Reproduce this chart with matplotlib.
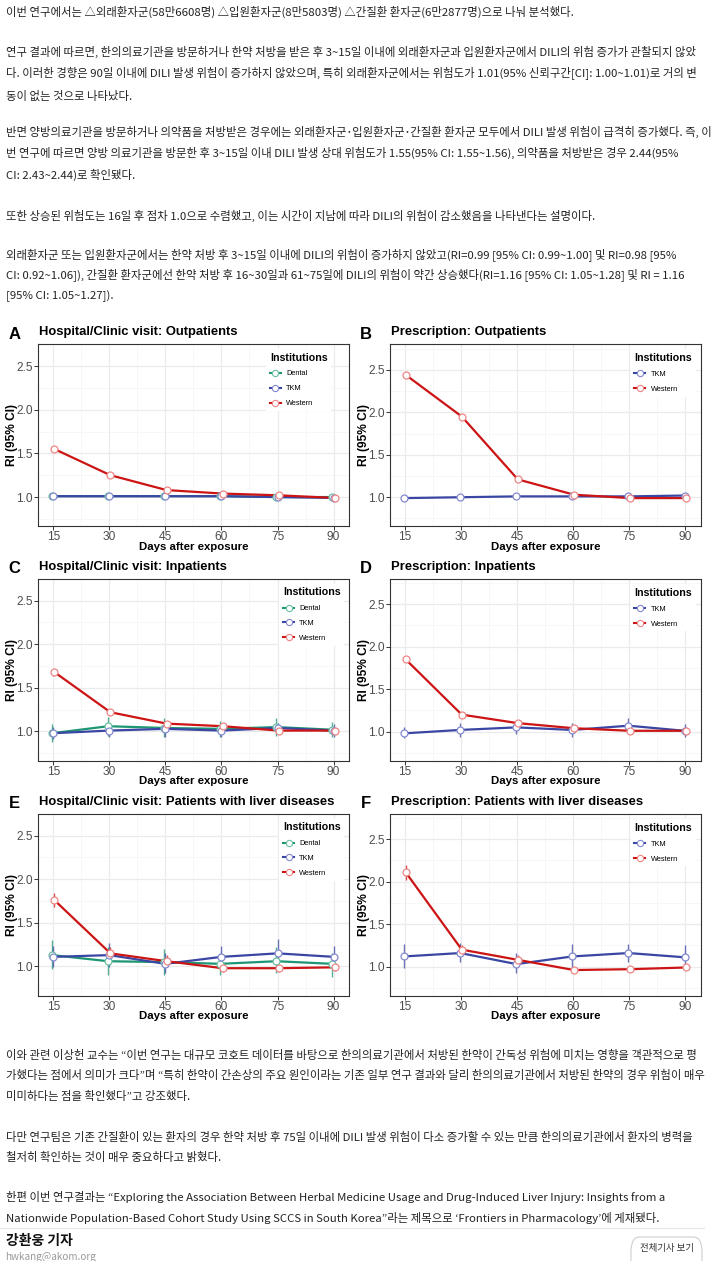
import matplotlib
matplotlib.use('Agg')
import matplotlib.pyplot as plt
import numpy as np
from matplotlib.lines import Line2D
from matplotlib.patches import FancyBboxPatch

# ---- data -------------------------------------------------------------
days = [15, 30, 45, 60, 75, 90]

# A: hospital/clinic visit, outpatients
a_dental = [1.01, 1.01, 1.01, 1.01, 1.00, 1.00]
a_dental_lo = [1.00, 1.00, 1.00, 1.00, 0.99, 0.99]
a_dental_hi = [1.02, 1.02, 1.02, 1.02, 1.01, 1.01]
a_tkm = [1.01, 1.01, 1.01, 1.01, 1.00, 0.99]
a_tkm_lo = [1.00, 1.00, 1.00, 1.00, 0.99, 0.98]
a_tkm_hi = [1.01, 1.01, 1.02, 1.02, 1.01, 1.00]
a_western = [1.55, 1.25, 1.08, 1.04, 1.02, 0.99]
a_western_lo = [1.55, 1.24, 1.08, 1.03, 1.01, 0.98]
a_western_hi = [1.56, 1.26, 1.09, 1.04, 1.02, 1.00]

# B: prescription, outpatients
b_tkm = [0.99, 1.00, 1.01, 1.01, 1.01, 1.02]
b_tkm_lo = [0.99, 0.99, 1.00, 1.00, 1.00, 1.01]
b_tkm_hi = [1.00, 1.01, 1.02, 1.02, 1.02, 1.03]
b_western = [2.44, 1.95, 1.21, 1.03, 0.99, 0.99]
b_western_lo = [2.43, 1.94, 1.20, 1.02, 0.98, 0.98]
b_western_hi = [2.44, 1.96, 1.22, 1.04, 1.00, 1.00]

# C: hospital/clinic visit, inpatients
c_dental = [0.98, 1.06, 1.04, 1.03, 1.05, 1.02]
c_dental_lo = [0.88, 0.95, 0.94, 0.94, 0.95, 0.94]
c_dental_hi = [1.08, 1.17, 1.15, 1.12, 1.15, 1.11]
c_tkm = [0.98, 1.01, 1.03, 1.01, 1.04, 1.01]
c_tkm_lo = [0.91, 0.94, 0.94, 0.94, 0.97, 0.94]
c_tkm_hi = [1.05, 1.07, 1.10, 1.08, 1.10, 1.08]
c_western = [1.68, 1.22, 1.09, 1.06, 1.01, 1.01]
c_western_lo = [1.64, 1.20, 1.07, 1.04, 0.99, 0.99]
c_western_hi = [1.72, 1.25, 1.11, 1.08, 1.03, 1.03]

# D: prescription, inpatients
d_tkm = [0.98, 1.02, 1.05, 1.02, 1.07, 1.01]
d_tkm_lo = [0.92, 0.94, 0.97, 0.94, 1.00, 0.94]
d_tkm_hi = [1.06, 1.10, 1.12, 1.10, 1.16, 1.09]
d_western = [1.85, 1.20, 1.10, 1.04, 1.01, 1.01]
d_western_lo = [1.82, 1.18, 1.08, 1.02, 0.99, 0.99]
d_western_hi = [1.88, 1.22, 1.12, 1.06, 1.03, 1.03]

# E: hospital/clinic visit, patients with liver diseases
e_dental = [1.13, 1.06, 1.05, 1.03, 1.06, 1.03]
e_dental_lo = [0.97, 0.90, 0.90, 0.90, 0.92, 0.88]
e_dental_hi = [1.30, 1.22, 1.20, 1.15, 1.22, 1.15]
e_tkm = [1.11, 1.13, 1.03, 1.11, 1.15, 1.11]
e_tkm_lo = [0.99, 0.99, 0.92, 0.99, 1.02, 0.99]
e_tkm_hi = [1.24, 1.27, 1.15, 1.24, 1.31, 1.24]
e_western = [1.76, 1.15, 1.06, 0.98, 0.98, 0.99]
e_western_lo = [1.68, 1.08, 0.99, 0.94, 0.94, 0.95]
e_western_hi = [1.84, 1.22, 1.13, 1.03, 1.02, 1.03]

# F: prescription, patients with liver diseases
f_tkm = [1.12, 1.16, 1.03, 1.12, 1.16, 1.11]
f_tkm_lo = [0.98, 1.05, 0.92, 0.98, 1.05, 0.98]
f_tkm_hi = [1.27, 1.28, 1.16, 1.27, 1.27, 1.25]
f_western = [2.11, 1.20, 1.08, 0.96, 0.97, 0.99]
f_western_lo = [2.02, 1.16, 1.03, 0.93, 0.94, 0.96]
f_western_hi = [2.20, 1.26, 1.14, 0.99, 1.00, 1.02]

y_ticks = [1.0, 1.5, 2.0, 2.5]

# ---- article text -----------------------------------------------------
top_lines = [
    (12, "이번 연구에서는 △외래환자군(58만6608명) △입원환자군(8만5803명) △간질환 환자군(6만2877명)으로 나눠 분석했다."),
    (52, "연구 결과에 따르면, 한의의료기관을 방문하거나 한약 처방을 받은 후 3~15일 이내에 외래환자군과 입원환자군에서 DILI의 위험 증가가 관찰되지 않았"),
    (74, "다. 이러한 경향은 90일 이내에 DILI 발생 위험이 증가하지 않았으며, 특히 외래환자군에서는 위험도가 1.01(95% 신뢰구간[CI]: 1.00~1.01)로 거의 변"),
    (96, "동이 없는 것으로 나타났다."),
    (132, "반면 양방의료기관을 방문하거나 의약품을 처방받은 경우에는 외래환자군･입원환자군･간질환 환자군 모두에서 DILI 발생 위험이 급격히 증가했다. 즉, 이"),
    (153, "번 연구에 따르면 양방 의료기관을 방문한 후 3~15일 이내 DILI 발생 상대 위험도가 1.55(95% CI: 1.55~1.56), 의약품을 처방받은 경우 2.44(95%"),
    (174.5, "CI: 2.43~2.44)로 확인됐다."),
    (215.5, "또한 상승된 위험도는 16일 후 점차 1.0으로 수렴했고, 이는 시간이 지남에 따라 DILI의 위험이 감소했음을 나타낸다는 설명이다."),
    (255.5, "외래환자군 또는 입원환자군에서는 한약 처방 후 3~15일 이내에 DILI의 위험이 증가하지 않았고(RI=0.99 [95% CI: 0.99~1.00] 및 RI=0.98 [95%"),
    (276, "CI: 0.92~1.06]), 간질환 환자군에선 한약 처방 후 16~30일과 61~75일에 DILI의 위험이 약간 상승했다(RI=1.16 [95% CI: 1.05~1.28] 및 RI = 1.16"),
    (296.5, "[95% CI: 1.05~1.27])."),
]
bottom_lines = [
    (1055, "이와 관련 이상헌 교수는 “이번 연구는 대규모 코호트 데이터를 바탕으로 한의의료기관에서 처방된 한약이 간독성 위험에 미치는 영향을 객관적으로 평"),
    (1075.5, "가했다는 점에서 의미가 크다”며 “특히 한약이 간손상의 주요 원인이라는 기존 일부 연구 결과와 달리 한의의료기관에서 처방된 한약의 경우 위험이 매우"),
    (1096, "미미하다는 점을 확인했다”고 강조했다."),
    (1137, "다만 연구팀은 기존 간질환이 있는 환자의 경우 한약 처방 후 75일 이내에 DILI 발생 위험이 다소 증가할 수 있는 만큼 한의의료기관에서 환자의 병력을"),
    (1157, "철저히 확인하는 것이 매우 중요하다고 밝혔다."),
    (1197, "한편 이번 연구결과는 “Exploring the Association Between Herbal Medicine Usage and Drug-Induced Liver Injury: Insights from a"),
    (1217.5, "Nationwide Population-Based Cohort Study Using SCCS in South Korea”라는 제목으로 ‘Frontiers in Pharmacology’에 게재됐다."),
]

# ---- style ------------------------------------------------------------
W, H = 724, 1261
KR = ['Noto Sans CJK KR', 'DejaVu Sans']
plt.rcParams['font.family'] = ['Liberation Sans', 'DejaVu Sans']

COLORS = {'Dental': '#1E9673', 'TKM': '#3A46A3', 'Western': '#CC1414'}
EDGE = {'Dental': '#6CC0A2', 'TKM': '#8389CF', 'Western': '#EE8585'}
DODGE3 = {'Dental': -0.3, 'TKM': 0.0, 'Western': 0.3}
DODGE2 = {'TKM': -0.2, 'Western': 0.2}


def fx(px):
    return px / W


def fy(py):
    return 1 - py / H


fig = plt.figure(figsize=(W / 100, H / 100), dpi=100, facecolor='white')

for y, line in top_lines + bottom_lines:
    fig.text(fx(5.5), fy(y), line, family=KR, fontsize=8.2, color='#222222',
             ha='left', va='center')


def draw_panel(left, top, ylim, letter, title, series, leg_x, leg_y):
    right, bottom = left + 311, top + 182
    ax = fig.add_axes([fx(left), fy(bottom), (right - left) / W, (bottom - top) / H])
    dodge = DODGE3 if len(series) == 3 else DODGE2
    handles = []
    for k, (name, ri, lo, hi) in enumerate(series):
        x = np.array(days) + dodge[name]
        ri, lo, hi = np.array(ri), np.array(lo), np.array(hi)
        ax.errorbar(x, ri, yerr=[ri - lo, hi - ri], fmt='none', ecolor=COLORS[name],
                    alpha=0.75, elinewidth=1.0, capsize=0, zorder=2 + k)
        ax.plot(x, ri, color=COLORS[name], lw=1.6, zorder=5 + k, solid_capstyle='round')
        ax.plot(x, ri, 'o', ms=5, mfc='white', mec=EDGE[name], mew=0.9, zorder=10 + k)
        handles.append(Line2D([], [], color=COLORS[name], lw=1.5, marker='o', ms=4.5,
                              mfc='white', mec=EDGE[name], mew=0.8, label=name))

    ax.set_xlim(11.0, 94.2)
    ax.set_ylim(*ylim)
    ax.set_xticks(days)
    ax.set_xticks([22.5, 37.5, 52.5, 67.5, 82.5], minor=True)
    ax.set_yticks(y_ticks)
    ax.set_yticklabels([f'{t:.1f}' for t in y_ticks])
    ax.set_yticks([0.75, 1.25, 1.75, 2.25, 2.75], minor=True)
    ax.grid(True, which='major', color='#EBEBEB', lw=0.9, zorder=0)
    ax.grid(True, which='minor', color='#F4F4F4', lw=0.5, zorder=0)
    ax.set_axisbelow(True)
    ax.tick_params(which='major', length=3, width=0.7, color='#333333',
                   labelsize=8.6, labelcolor='#4D4D4D')
    ax.tick_params(axis='x', pad=0.5)
    ax.tick_params(axis='y', pad=0.8)
    ax.tick_params(which='minor', length=0)
    for s in ax.spines.values():
        s.set_color('#333333')
        s.set_linewidth(0.8)

    leg = ax.legend(handles=handles, title='Institutions', loc='upper left',
                    bbox_to_anchor=(leg_x, leg_y), bbox_transform=ax.transAxes,
                    frameon=True, fancybox=False, edgecolor='none', facecolor='white',
                    framealpha=1, fontsize=5.3, alignment='left',
                    title_fontproperties={'weight': 'bold', 'size': 7.7},
                    handlelength=1.5, handletextpad=0.7, labelspacing=1.05,
                    borderpad=0.5, borderaxespad=0)
    leg.set_zorder(20)

    cx = (left + right) / 2
    fig.text(fx(left - 24), fy(top - 10), letter, fontsize=12, fontweight='bold',
             ha='center', va='center', color='black')
    fig.text(fx(left + 0.5), fy(top - 12), title, fontsize=9.4, fontweight='bold',
             ha='left', va='center', color='black')
    fig.text(fx(left - 26.5), fy((top + bottom) / 2), 'RI (95% CI)', fontsize=8.6,
             fontweight='bold', rotation=90, ha='center', va='center', color='black')
    fig.text(fx(cx), fy(bottom + 20.5), 'Days after exposure', fontsize=8.2,
             fontweight='bold', ha='center', va='center', color='black')
    return ax


LOW = (0.665, 2.595)
HIGH = (0.658, 2.80)

draw_panel(38.3, 344.3, LOW, 'A', 'Hospital/Clinic visit: Outpatients',
           [('Dental', a_dental, a_dental_lo, a_dental_hi),
            ('TKM', a_tkm, a_tkm_lo, a_tkm_hi),
            ('Western', a_western, a_western_lo, a_western_hi)], 0.733, 0.975)
draw_panel(390, 344.3, HIGH, 'B', 'Prescription: Outpatients',
           [('TKM', b_tkm, b_tkm_lo, b_tkm_hi),
            ('Western', b_western, b_western_lo, b_western_hi)], 0.774, 0.972)
draw_panel(38.3, 578.7, LOW, 'C', 'Hospital/Clinic visit: Inpatients',
           [('Dental', c_dental, c_dental_lo, c_dental_hi),
            ('TKM', c_tkm, c_tkm_lo, c_tkm_hi),
            ('Western', c_western, c_western_lo, c_western_hi)], 0.775, 0.973)
draw_panel(390, 578.7, HIGH, 'D', 'Prescription: Inpatients',
           [('TKM', d_tkm, d_tkm_lo, d_tkm_hi),
            ('Western', d_western, d_western_lo, d_western_hi)], 0.774, 0.970)
draw_panel(38.3, 813.7, LOW, 'E', 'Hospital/Clinic visit: Patients with liver diseases',
           [('Dental', e_dental, e_dental_lo, e_dental_hi),
            ('TKM', e_tkm, e_tkm_lo, e_tkm_hi),
            ('Western', e_western, e_western_lo, e_western_hi)], 0.775, 0.973)
draw_panel(390, 813.7, HIGH, 'F', 'Prescription: Patients with liver diseases',
           [('TKM', f_tkm, f_tkm_lo, f_tkm_hi),
            ('Western', f_western, f_western_lo, f_western_hi)], 0.774, 0.970)

# ---- footer: rule, byline, button -------------------------------------
fig.add_artist(Line2D([0, fx(704)], [fy(1228), fy(1228)], color='#E6E6E6', lw=0.8))
fig.text(fx(5.5), fy(1241), '강환웅 기자', family=KR, fontsize=10, fontweight='bold',
         color='#111111', ha='left', va='center')
fig.text(fx(5.5), fy(1256.5), 'hwkang@akom.org', family=KR, fontsize=7.2, color='#9A9A9A',
         ha='left', va='center')
btn = FancyBboxPatch((fx(631), fy(1280)), fx(702) - fx(631), fy(1237) - fy(1280),
                     boxstyle='round,pad=0,rounding_size=0.012', transform=fig.transFigure,
                     facecolor='white', edgecolor='#CFCFCF', lw=0.8)
fig.add_artist(btn)
fig.text(fx(666.5), fy(1249), '전체기사 보기', family=KR, fontsize=6.8, color='#333333',
         ha='center', va='center')

fig.savefig('out.png', dpi=100, facecolor='white')
